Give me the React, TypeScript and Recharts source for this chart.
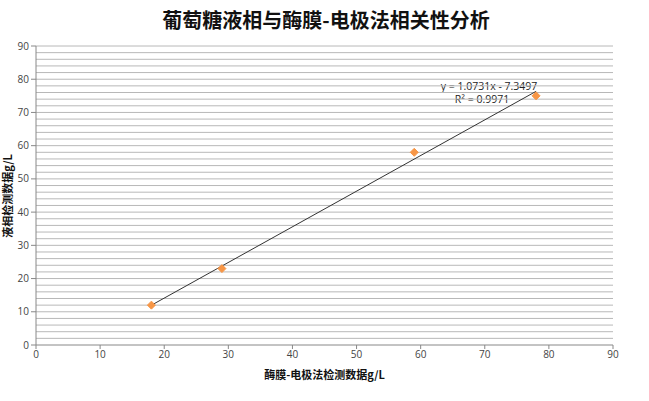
import React from "react";
import {
  ComposedChart,
  Scatter,
  XAxis,
  YAxis,
  ReferenceLine,
  Customized,
} from "recharts";

const xValues = [18, 29, 59, 78];
const yValues = [12, 23, 58, 75];
const trendX = [18, 78];
const trendY = [11.97, 76.35];
const xTicks = [0, 10, 20, 30, 40, 50, 60, 70, 80, 90];
const yTicks = [0, 10, 20, 30, 40, 50, 60, 70, 80, 90];
const gridTicks = [
  2, 4, 6, 8, 10, 12, 14, 16, 18, 20, 22, 24, 26, 28, 30, 32, 34, 36, 38, 40,
  42, 44, 46, 48, 50, 52, 54, 56, 58, 60, 62, 64, 66, 68, 70, 72, 74, 76, 78, 80,
  82, 84, 86, 88, 90,
];
const title = "葡萄糖液相与酶膜-电极法相关性分析";
const xTitle = "酶膜-电极法检测数据g/L";
const yTitle = "液相检测数据g/L";
const equation = "y = 1.0731x - 7.3497";
const rSquared = "R² = 0.9971";

const points = xValues.map((x, i) => ({ x, y: yValues[i] }));
const trend = trendX.map((x, i) => ({ x, y: trendY[i] }));

const W = 649;
const H = 401;
const CJK = '"Noto Sans CJK SC", "Noto Sans", sans-serif';
const TICK_FONT = '"Open Sans", "Liberation Sans", sans-serif';

const Diamond = (props: any) => {
  const { cx, cy } = props;
  if (cx == null || cy == null) return null;
  const r = 4;
  return (
    <path
      d={`M${cx},${cy - r}L${cx + r},${cy}L${cx},${cy + r}L${cx - r},${cy}Z`}
      fill="#F79646"
      stroke="#F79646"
    />
  );
};

const Annotation = () => (
  <g>
    <g fontFamily={TICK_FONT} fontSize={10.5} fill="#222">
      <text x={489} y={90} textAnchor="middle">
        {equation}
      </text>
      <text x={482} y={103} textAnchor="middle">
        {rSquared}
      </text>
    </g>
    <text
      x={12}
      y={196}
      transform="rotate(-90 12 196)"
      textAnchor="middle"
      fontFamily={CJK}
      fontWeight={700}
      fontSize={11}
      fill="#111"
    >
      {yTitle}
    </text>
  </g>
);

export default function App() {
  return (
    <div
      style={{
        position: "absolute",
        left: 0,
        top: 0,
        width: W,
        height: H,
        background: "#fff",
      }}
    >
      <div
        style={{
          position: "absolute",
          left: 0,
          top: 6,
          width: 652,
          textAlign: "center",
          fontFamily: CJK,
          fontWeight: 700,
          fontSize: 20,
          color: "#111",
          lineHeight: "28px",
        }}
      >
        {title}
      </div>
      <ComposedChart
        width={W}
        height={H}
        margin={{ top: 46, right: 36, bottom: 26, left: 0 }}
      >
        {gridTicks.map((t) => (
          <ReferenceLine
            key={t}
            y={t}
            stroke="#b8b8b8"
            strokeWidth={1}
            ifOverflow="visible"
          />
        ))}
        <XAxis
          type="number"
          dataKey="x"
          domain={[0, 90]}
          ticks={xTicks}
          interval={0}
          height={30}
          axisLine={{ stroke: "#888" }}
          tickLine={{ stroke: "#888" }}
          tickSize={4}
          tick={{ fontSize: 10, fill: "#444", fontFamily: TICK_FONT }}
          label={{
            value: xTitle,
            position: "insideBottom",
            offset: -4,
            style: {
              fontFamily: CJK,
              fontWeight: 700,
              fontSize: 11,
              fill: "#111",
            },
          }}
        />
        <YAxis
          type="number"
          dataKey="y"
          domain={[0, 90]}
          ticks={yTicks}
          interval={0}
          width={36}
          axisLine={{ stroke: "#888" }}
          tickLine={{ stroke: "#888" }}
          tickSize={5}
          tick={{ fontSize: 10, fill: "#444", fontFamily: TICK_FONT }}
        />
        <Scatter
          data={trend}
          line={{ stroke: "#333", strokeWidth: 1 }}
          shape={() => null}
          isAnimationActive={false}
        />
        <Scatter
          data={points}
          shape={<Diamond />}
          isAnimationActive={false}
        />
        <Customized component={Annotation} />
      </ComposedChart>
    </div>
  );
}
